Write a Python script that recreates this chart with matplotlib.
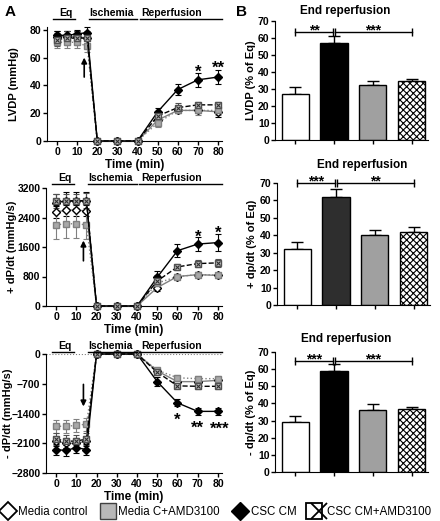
import numpy as np
import matplotlib
matplotlib.use("Agg")
import matplotlib.pyplot as plt
from matplotlib.lines import Line2D
from matplotlib.legend_handler import HandlerTuple

plt.rcParams["font.family"] = ["Liberation Sans", "DejaVu Sans"]
plt.rcParams["font.weight"] = "bold"
plt.rcParams["axes.labelweight"] = "bold"
plt.rcParams["hatch.linewidth"] = 0.8

# ---- data -------------------------------------------------------------
time = [0, 5, 10, 15, 20, 30, 40, 50, 60, 70, 80]
groups = ["Media control", "Media C+AMD3100", "CSC CM", "CSC CM+AMD3100"]

lvdp = {
    "Media control": [75, 75, 75, 74, 0, 0, 0, 15, 22, 22, 21],
    "Media C+AMD3100": [71, 71, 71, 68, 0, 0, 0, 13, 22, 22, 22],
    "CSC CM": [76, 76, 77, 78, 0, 0, 0, 21, 37, 44, 46],
    "CSC CM+AMD3100": [73, 74, 74, 74, 0, 0, 0, 18, 24, 26, 26],
}
lvdp_err = {
    "Media control": [4, 4, 4, 4, 0, 0, 0, 3, 2, 2, 4],
    "Media C+AMD3100": [4, 4, 4, 4, 0, 0, 0, 3, 2, 3, 3],
    "CSC CM": [3, 3, 3, 4, 0, 0, 0, 3, 4, 5, 5],
    "CSC CM+AMD3100": [5, 5, 5, 5, 0, 0, 0, 3, 3, 2, 2],
}

plus = {
    "Media control": [2550, 2600, 2600, 2580, 0, 0, 0, 500, 800, 850, 830],
    "Media C+AMD3100": [2200, 2230, 2230, 2200, 0, 0, 0, 620, 800, 850, 840],
    "CSC CM": [2800, 2850, 2850, 2850, 0, 0, 0, 780, 1500, 1680, 1720],
    "CSC CM+AMD3100": [2850, 2850, 2850, 2860, 0, 0, 0, 680, 1060, 1150, 1170],
}
plus_err = {
    "Media control": [150, 150, 150, 150, 0, 0, 0, 80, 60, 60, 60],
    "Media C+AMD3100": [380, 380, 380, 380, 0, 0, 0, 100, 60, 60, 60],
    "CSC CM": [250, 230, 230, 250, 0, 0, 0, 180, 180, 200, 230],
    "CSC CM+AMD3100": [200, 200, 200, 200, 0, 0, 0, 150, 80, 100, 100],
}

minus = {
    "Media control": [-2050, -2100, -2100, -2050, 0, 0, 0, -400, -650, -650, -620],
    "Media C+AMD3100": [-1700, -1700, -1680, -1650, 0, 0, 0, -380, -560, -580, -580],
    "CSC CM": [-2250, -2270, -2200, -2250, 0, 0, 0, -650, -1150, -1350, -1350],
    "CSC CM+AMD3100": [-2000, -2050, -2050, -2000, 0, 0, 0, -430, -750, -760, -760],
}
minus_err = {
    "Media control": [120, 120, 120, 120, 0, 0, 0, 60, 60, 60, 60],
    "Media C+AMD3100": [150, 150, 150, 150, 0, 0, 0, 60, 60, 60, 60],
    "CSC CM": [130, 130, 130, 130, 0, 0, 0, 100, 80, 80, 80],
    "CSC CM+AMD3100": [150, 150, 150, 150, 0, 0, 0, 60, 60, 60, 60],
}

bar_lvdp = [27, 57, 32.5, 34.5]
bar_lvdp_err = [4, 4, 2.5, 1.5]
bar_plus = [32, 62, 40, 42]
bar_plus_err = [4, 4.5, 3, 2.5]
bar_minus = [29, 59, 36, 36.5]
bar_minus_err = [3.5, 4, 3.5, 1.5]

# ---- styles ----------------------------------------------------------
style = {
    "Media control": dict(marker="D", mfc="white", mec="black", color="#808080", ls="-", ms=4.5),
    "Media C+AMD3100": dict(marker="s", mfc="#a8a8a8", mec="#808080", color="#808080", ls=":", ms=5),
    "CSC CM": dict(marker="D", mfc="black", mec="black", color="black", ls="-", ms=4.5),
    "CSC CM+AMD3100": dict(marker="s", mfc="#c8c8c8", mec="#505050", color="black", ls="--", ms=5),
}
TICKFONT = ["Liberation Sans Narrow", "Liberation Sans"]

W, H = 440, 521
fig = plt.figure(figsize=(W / 100, H / 100), dpi=100)


def axes_px(left, right, top, bottom):
    return fig.add_axes([left / W, 1 - bottom / H, (right - left) / W, (bottom - top) / H])


def prism(ax, ylab, ylab_x):
    ax.spines["top"].set_visible(False)
    ax.spines["right"].set_visible(False)
    ax.tick_params(direction="out", length=3, width=1, labelsize=7.5, pad=1)
    for lab in ax.get_xticklabels() + ax.get_yticklabels():
        lab.set_fontweight("bold")
        lab.set_family(TICKFONT)
    ax.set_ylabel(ylab, fontsize=8)
    ax.yaxis.label.set_va("center")
    bb = ax.get_position()
    ax.yaxis.set_label_coords((ylab_x / W - bb.x0) / bb.width, 0.5)


def star(ax, x, y, s, size=12, ha="center"):
    # put the asterisk glyph centre at (x, y)
    ax.annotate(s, (x, y), xytext=(0, -0.58 * size * 100 / 72), textcoords="offset pixels",
                ha=ha, va="baseline", fontsize=size, fontweight="bold", annotation_clip=False)


def line_panel(ax, data, err, ylab, top_px, line_gap, ylab_x):
    for g in groups:
        s = style[g]
        ax.errorbar(time, data[g], yerr=err[g], color=s["color"], ls=s["ls"], lw=1,
                    marker=s["marker"], mfc=s["mfc"], mec=s["mec"], ms=s["ms"],
                    ecolor=s["mec"], elinewidth=0.8, capsize=2.5, capthick=0.8,
                    clip_on=False, zorder=3)
        if g == "CSC CM+AMD3100":
            ax.plot(time, data[g], ls="none", marker="x", ms=3.5, mec="#303030",
                    mew=0.8, clip_on=False, zorder=4)
    ax.set_xlim(-5, 82)
    ax.set_xticks([0, 10, 20, 30, 40, 50, 60, 70, 80])
    ax.set_xlabel("Time (min)", fontsize=8.5, labelpad=2)
    prism(ax, ylab, ylab_x)
    # protocol phases, placed in pixels above the axes top
    ly = 1 - (top_px - line_gap) / H
    inv = fig.transFigure.inverted()
    for x0, x1, lab, xc in [(-2, 9, "Eq", 4.5), (16, 39.8, "Ischemia", 27),
                            (41, 82, "Reperfusion", 57)]:
        xa = inv.transform(ax.transData.transform((x0, 0)))[0]
        xb = inv.transform(ax.transData.transform((x1, 0)))[0]
        xm = inv.transform(ax.transData.transform((xc, 0)))[0]
        fig.add_artist(Line2D([xa, xb], [ly, ly], color="black", lw=1))
        fig.text(xm, ly + 1 / H, lab, ha="center", va="bottom",
                 fontsize=7.5, fontweight="bold")


# Panel A1
ax1 = axes_px(47, 222, 27, 141)
ax1.set_ylim(0, 82)
line_panel(ax1, lvdp, lvdp_err, "LVDP (mmHg)", 27, 8, 14)
ax1.set_yticks([0, 20, 40, 60, 80])
ax1.annotate("", xy=(13.5, 62), xytext=(13.5, 44),
             arrowprops=dict(arrowstyle="-|>", color="black", lw=1.2, mutation_scale=8))
star(ax1, 70, 53, "*")
star(ax1, 80, 56, "**")

# Panel A2
ax2 = axes_px(46, 222, 188, 306)
ax2.set_ylim(0, 3200)
line_panel(ax2, plus, plus_err, "+ dP/dt (mmHg/s)", 188, 4, 12)
ax2.set_yticks([0, 800, 1600, 2400, 3200])
ax2.annotate("", xy=(13.5, 1850), xytext=(13.5, 1150),
             arrowprops=dict(arrowstyle="-|>", color="black", lw=1.2, mutation_scale=8))
star(ax2, 70, 2010, "*")
star(ax2, 80, 2115, "*")

# Panel A3
ax3 = axes_px(46, 222, 354, 473)
ax3.set_ylim(-2800, 0)
line_panel(ax3, minus, minus_err, "- dP/dt (mmHg/s)", 354, 2, 8)
ax3.set_yticks([-2800, -2100, -1400, -700, 0])
ax3.axhline(0, color="gray", lw=0.8, ls=":", zorder=1)
ax3.annotate("", xy=(13.5, -1300), xytext=(13.5, -650),
             arrowprops=dict(arrowstyle="-|>", color="black", lw=1.2, mutation_scale=8))
star(ax3, 60, -1435, "*")
star(ax3, 70, -1620, "**")
star(ax3, 81, -1640, "***")


# ---- bar panels ------------------------------------------------------
def bar_panel(ax, vals, err, ylab, dark, ybr, stars, title_xy, ylab_x):
    xs = np.arange(len(vals))
    cols = ["white", dark, "#a0a0a0", "white"]
    bars = ax.bar(xs, vals, width=0.7, color=cols, edgecolor="black", lw=1, zorder=2)
    bars[3].set_hatch("xxxxx")
    ax.errorbar(xs, vals, yerr=[[0] * len(vals), err], fmt="none", ecolor="black",
                elinewidth=1, capsize=4, capthick=1, zorder=1)
    ax.set_xlim(-0.52, 3.42)
    ax.set_ylim(0, 70)
    ax.set_yticks(range(0, 71, 10))
    ax.set_xticks(xs)
    ax.set_xticklabels([])
    fig.text(title_xy[0] / W, 1 - title_xy[1] / H, "End reperfusion", ha="center",
             va="center", fontsize=8.5, fontweight="bold")
    prism(ax, ylab, ylab_x)
    for (a, b), st in zip([(0, 0.97), (1.03, 3)], stars):
        ax.plot([a, b], [ybr, ybr], color="black", lw=1, marker="|", ms=6, mew=1,
                clip_on=False)
        star(ax, (a + b) / 2, ybr + 3.2, st, size=10)


bx1 = axes_px(275, 428, 21, 140)
bar_panel(bx1, bar_lvdp, bar_lvdp_err, "LVDP (% of Eq)", "black", 63.5,
          ["**", "***"], (345, 11), 251)
bx2 = axes_px(277, 430, 183, 305)
bar_panel(bx2, bar_plus, bar_plus_err, "+ dp/dt (% of Eq)", "#2e2e2e", 70,
          ["***", "**"], (362, 165), 252)
bx3 = axes_px(275, 428, 352, 472)
bar_panel(bx3, bar_minus, bar_minus_err, "- dp/dt (% of Eq)", "black", 65,
          ["***", "***"], (346, 339), 251)

fig.text(5 / W, 1 - 12 / H, "A", fontsize=11, fontweight="bold", va="center")
fig.text(236 / W, 1 - 12 / H, "B", fontsize=11, fontweight="bold", va="center")

# ---- legend ----------------------------------------------------------
h_mc = Line2D([], [], ls="none", marker="D", mfc="white", mec="black", ms=9, mew=1.3)
h_ma = Line2D([], [], ls="none", marker="s", mfc="#b8b8b8", mec="#404040", ms=11, mew=1)
h_cc = Line2D([], [], ls="none", marker="D", mfc="black", mec="black", ms=9)
h_cx = (Line2D([], [], ls="none", marker="s", mfc="white", mec="black", ms=11, mew=1.3),
        Line2D([], [], ls="none", marker="x", mec="black", ms=11, mew=1.3))
fig.legend([h_mc, h_ma, h_cc, h_cx], groups, loc="center left", ncol=4,
           bbox_to_anchor=(0.0, 1 - 512 / H), frameon=False, handlelength=1.0,
           handletextpad=0.4, columnspacing=1.25, borderaxespad=0, borderpad=0.2,
           prop=dict(family=["Liberation Sans"], weight="normal", size=8.3),
           handler_map={tuple: HandlerTuple(ndivide=None, pad=0)})

fig.savefig("out.png", dpi=100)
